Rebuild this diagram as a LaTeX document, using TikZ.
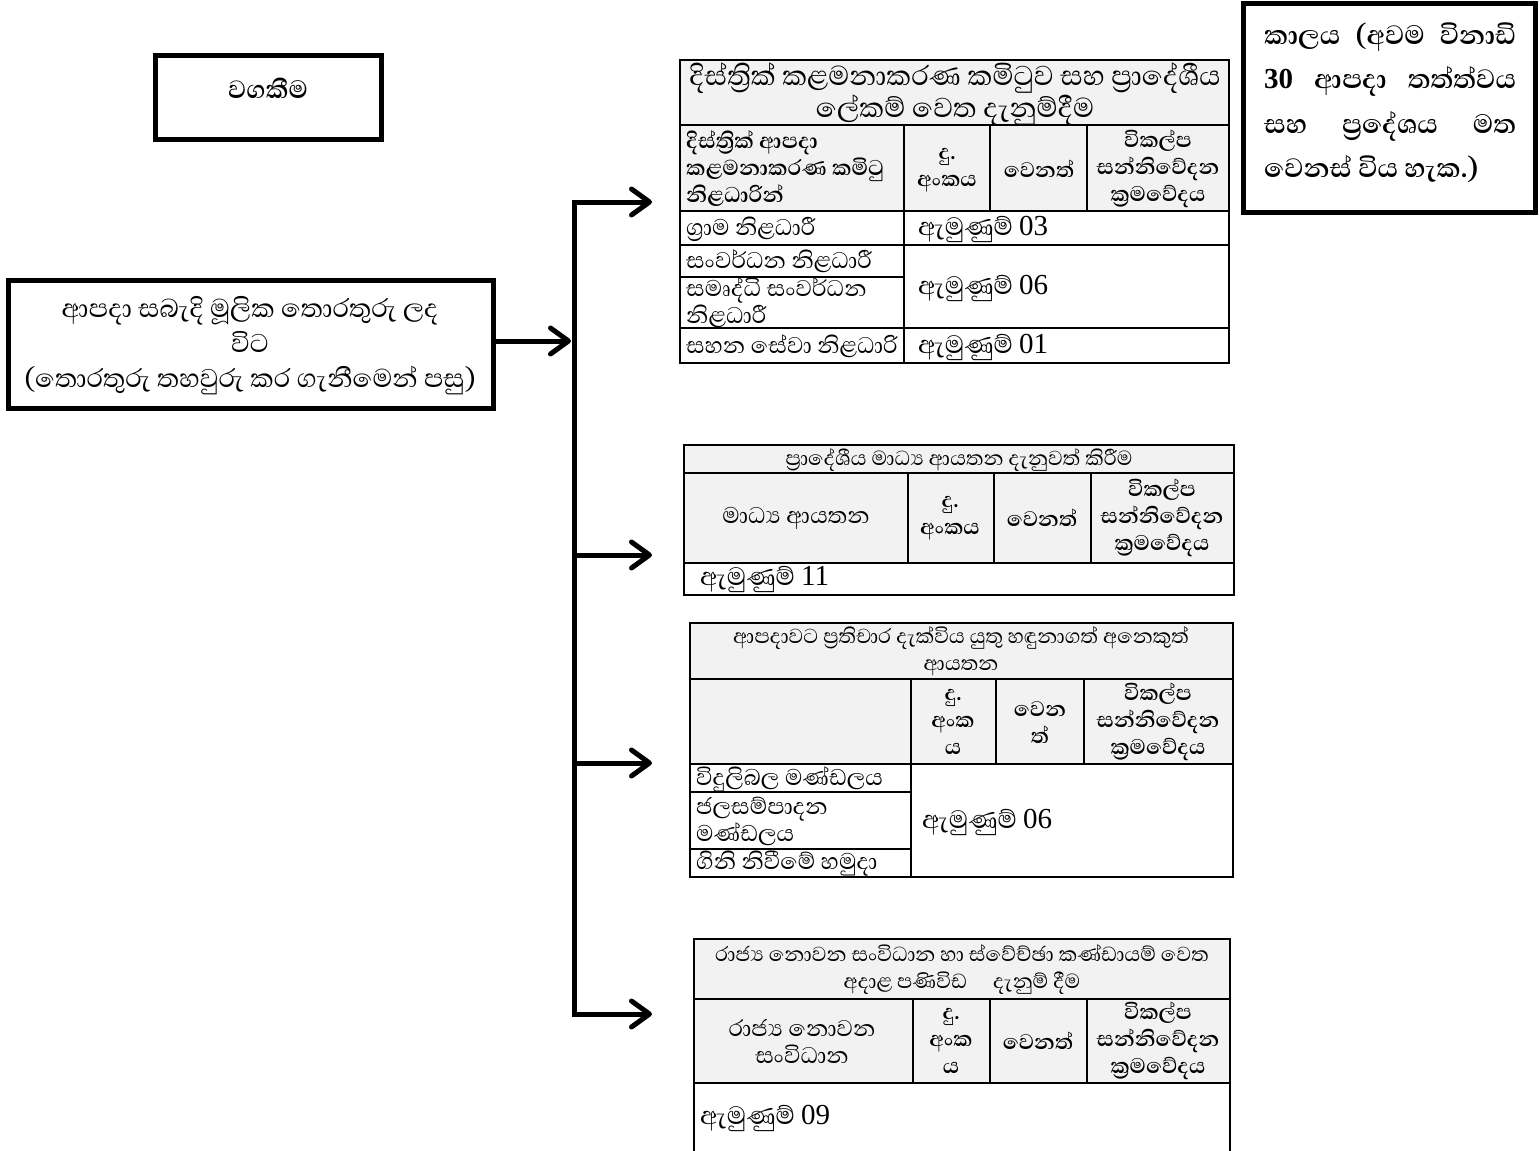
\documentclass[tikz,border=0pt]{standalone}
\usepackage{fontspec}
\setmainfont{Liberation Serif}
\newfontfamily\sinfont[Script=Sinhala]{Abhaya Libre}
\usetikzlibrary{arrows.meta}
\definecolor{hdrgray}{HTML}{F2F2F2}
\newcommand\fsz[2]{\fontsize{#1}{#2}\selectfont}
\newcommand\ZWJ{^^^^200d}
\tikzset{
  thickbox/.style={draw, line width=5pt, inner sep=0pt},
  gridline/.style={line width=1.6pt, line cap=rect},
  flow/.style={line width=5pt, line join=miter},
  tip/.style={-{Straight Barb[length=18pt,width=26pt,round]}},
  tips/.style={{Straight Barb[length=18pt,width=26pt,round]}-{Straight Barb[length=18pt,width=26pt,round]}},
  cell/.style={inner sep=0pt, align=center, font=\sinfont\fsz{29}{27}},
  bcell/.style={cell, font=\sinfont\bfseries\fsz{27}{27}},
  lcell/.style={inner sep=0pt, align=left, anchor=west, font=\sinfont\fsz{29}{27}},
  blcell/.style={lcell, font=\sinfont\bfseries\fsz{27.5}{27}},
  ttl/.style={inner sep=0pt, align=center, font=\sinfont\fsz{26}{27}},
  app/.style={inner sep=0pt, anchor=west, font=\sinfont\fsz{32}{27}},
  timetxt/.style={inner sep=0pt, anchor=west, font=\sinfont\bfseries\fsz{34}{27}},
}
\newcommand\num[1]{{\rmfamily\fsz{29}{27}#1}}
\begin{document}
\begin{tikzpicture}[x=1pt,y=-1pt]
\useasboundingbox (0,0) rectangle (1540,1151);

% ---------- boxes on the left and top right ----------
\node[thickbox, minimum width=226, minimum height=84] (resp) at (268,97) {};
\node[inner sep=0pt, font=\sinfont\bfseries\fsz{32}{27}] (resptxt) at (268,88) {වගකීම};

\node[thickbox, minimum width=485, minimum height=128] (src) at (250.5,344) {};
\node[inner sep=0pt, align=center, font=\sinfont\fsz{33}{35}] (srctxt) at (250,346)
  {ආපදා සබැදි මූලික තොරතුරු ලද\\විට\\(තොරතුරු තහවුරු කර ගැනීමෙන් පසු)};

\node[thickbox, minimum width=292, minimum height=209] (time) at (1389,107.5) {};
\node[timetxt] (time1) at (1264,37) {\makebox[252pt][s]{කාලය (අවම විනාඩි}};
\node[timetxt] (time2) at (1264,81) {\makebox[252pt][s]{{\rmfamily\bfseries\fsz{29}{27}30} ආපදා තත්ත්වය}};
\node[timetxt] (time3) at (1264,126) {\makebox[252pt][s]{සහ ප්\ZWJ රදේශය මත}};
\node[timetxt] (time4) at (1264,169) {වෙනස් විය හැක.)};

% ---------- table 1 ----------
\fill[hdrgray] (680,60) rectangle (1229,211);
\draw[gridline] (680,60) rectangle (1229,363);
\draw[gridline] (680,125) -- (1229,125) (680,211) -- (1229,211) (680,245) -- (1229,245)
  (680,277) -- (904,277) (680,328) -- (1229,328)
  (904,125) -- (904,363) (990,125) -- (990,211) (1087,125) -- (1087,211);
\node[ttl, font=\sinfont\fsz{35}{28}] (t1title) at (955,94) {දිස්ත්\ZWJ රික් කළමනාකරණ කමිටුව සහ ප්\ZWJ රාදේශීය\\ලේකම් වෙත දැනුම්දීම};
\node[blcell] (t1h1) at (686,169) {දිස්ත්\ZWJ රික් ආපදා\\කළමනාකරණ කමිටු\\නිළධාරින්};
\node[bcell] (t1h2) at (947,170) {දු.\\අංකය};
\node[bcell] (t1h3) at (1039,169) {වෙනත්};
\node[bcell] (t1h4) at (1158,169) {විකල්ප\\සන්නිවේදන\\ක්\ZWJ රමවේදය};
\node[lcell] (t1r1) at (686,229) {ග්\ZWJ රාම නිළධාරී};
\node[lcell] (t1r2) at (686,261) {සංවර්ධන නිළධාරී};
\node[lcell] (t1r3) at (686,303) {සමෘද්ධි සංවර්ධන\\නිළධාරී};
\node[lcell] (t1r4) at (686,346) {සහන සේවා නිළධාරි};
\node[app] (t1a1) at (918,229) {ඇමුණුම් \num{03}};
\node[app] (t1a2) at (918,288) {ඇමුණුම් \num{06}};
\node[app] (t1a3) at (918,347) {ඇමුණුම් \num{01}};

% ---------- table 2 ----------
\fill[hdrgray] (684,445) rectangle (1234,563);
\draw[gridline] (684,445) rectangle (1234,595);
\draw[gridline] (684,473) -- (1234,473) (684,563) -- (1234,563)
  (908,473) -- (908,563) (994,473) -- (994,563) (1091,473) -- (1091,563);
\node[ttl] (t2title) at (959,460) {ප්\ZWJ රාදේශීය මාධ්\ZWJ ය ආයතන දැනුවත් කිරීම};
\node[cell] (t2h1) at (796,518) {මාධ්\ZWJ ය ආයතන};
\node[bcell] (t2h2) at (950,518) {දු.\\අංකය};
\node[bcell] (t2h3) at (1042,518) {වෙනත්};
\node[bcell] (t2h4) at (1162,518) {විකල්ප\\සන්නිවේදන\\ක්\ZWJ රමවේදය};
\node[app] (t2a1) at (700,579) {ඇමුණුම් \num{11}};

% ---------- table 3 ----------
\fill[hdrgray] (690,623) rectangle (1233,764);
\draw[gridline] (690,623) rectangle (1233,877);
\draw[gridline] (690,679) -- (1233,679) (690,764) -- (1233,764)
  (690,792) -- (911,792) (690,849) -- (911,849)
  (911,679) -- (911,877) (996,679) -- (996,764) (1084,679) -- (1084,764);
\node[ttl] (t3title) at (961,651) {ආපදාවට ප්\ZWJ රතිචාර දැක්විය යුතු හඳුනාගත් අනෙකුත්\\ආයතන};
\node[bcell] (t3h2) at (953,722) {දු.\\අංක\\ය};
\node[bcell] (t3h3) at (1040,723) {වෙන\\ත්};
\node[bcell] (t3h4) at (1158,722) {විකල්ප\\සන්නිවේදන\\ක්\ZWJ රමවේදය};
\node[lcell] (t3r1) at (696,779) {විදුලිබල මණ්ඩලය};
\node[lcell] (t3r2) at (696,821) {ජලසම්පාදන\\මණ්ඩලය};
\node[lcell] (t3r3) at (696,864) {ගිනි නිවීමේ හමුදා};
\node[app] (t3a1) at (922,822) {ඇමුණුම් \num{06}};

% ---------- table 4 ----------
\fill[hdrgray] (694,939) rectangle (1230,1083);
\draw[gridline] (694,1170) -- (694,939) -- (1230,939) -- (1230,1170);
\draw[gridline] (694,999) -- (1230,999) (694,1083) -- (1230,1083)
  (913,999) -- (913,1083) (990,999) -- (990,1083) (1087,999) -- (1087,1083);
\node[ttl] (t4title) at (962,970) {රාජ්\ZWJ ය නොවන සංවිධාන හා ස්වේච්ඡා කණ්ඩායම් වෙත\\අදාළ පණිවිඩ\quad දැනුම් දීම};
\node[cell] (t4h1) at (802,1041) {රාජ්\ZWJ ය නොවන\\සංවිධාන};
\node[bcell] (t4h2) at (951,1041) {දු.\\අංක\\ය};
\node[bcell] (t4h3) at (1038,1041) {වෙනත්};
\node[bcell] (t4h4) at (1158,1041) {විකල්ප\\සන්නිවේදන\\ක්\ZWJ රමවේදය};
\node[app] (t4a1) at (700,1118) {ඇමුණුම් \num{09}};

% ---------- connectors ----------
\coordinate (busin) at (571,341);
\coordinate (bt) at (574,202);
\coordinate (bb) at (574,1014);
\coordinate (b2) at (574,555);
\coordinate (b3) at (574,763);
\coordinate (a1) at (652,202);
\coordinate (a2) at (652,555);
\coordinate (a3) at (652,763);
\coordinate (a4) at (652,1014);
\draw[flow, tip] (src.east |- busin) -- (busin);
\draw[flow, tips] (a1) -- (bt) -- (bb) -- (a4);
\draw[flow, tip] (b2) -- (a2);
\draw[flow, tip] (b3) -- (a3);
\end{tikzpicture}
\end{document}
